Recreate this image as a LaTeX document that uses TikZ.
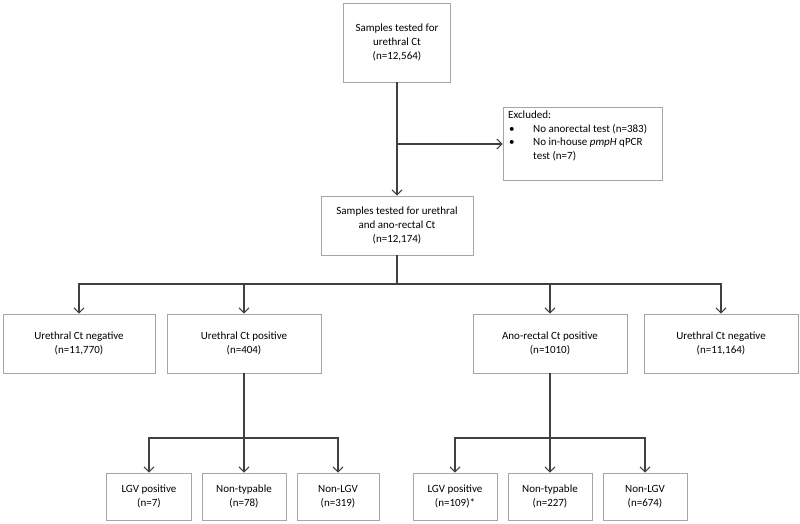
\documentclass[tikz,border=0pt]{standalone}
\usepackage{fontspec}
\setmainfont{Carlito}
\usetikzlibrary{arrows.meta}
\definecolor{boxgray}{HTML}{A6A6A6}
\definecolor{linegray}{HTML}{404040}
\begin{document}
\begin{tikzpicture}[x=1pt,y=-1pt,
  font=\fontsize{11}{14.3}\selectfont,
  box/.style={draw=boxgray, line width=0.8pt, align=center, inner sep=0pt, fill=white},
  conn/.style={draw=linegray, line width=1.3pt},
  arr/.style={conn, -{Straight Barb[length=5pt,width=10pt,line width=1.1pt]}}
]
\useasboundingbox (0,0) rectangle (800,523);
% top
\node[box, minimum width=107pt, minimum height=79pt] (top) at (397,42.5) {Samples tested for\\urethral Ct\\(n=12,564)};
\node[box, minimum width=159pt, minimum height=73pt] (ex) at (582.5,143.5) {};
\node[anchor=north west, align=left, inner sep=0pt, font=\fontsize{11}{13.8}\selectfont] (extext) at (508,110.5)
  {Excluded:\\
   \makebox[25pt][l]{\hspace{1pt}\textbullet}No anorectal test (n=383)\\
   \makebox[25pt][l]{\hspace{1pt}\textbullet}No in-house \textit{pmpH} qPCR\\
   \makebox[25pt][l]{}test (n=7)};
\node[box, minimum width=152pt, minimum height=59pt] (mid) at (397,225.5) {Samples tested for urethral\\and ano-rectal Ct\\(n=12,174)};
% row 2
\node[box, minimum width=152pt, minimum height=59pt] (uneg1) at (79,343.5) {Urethral Ct negative\\(n=11,770)};
\node[box, minimum width=154pt, minimum height=59pt] (upos) at (244,343.5) {Urethral Ct positive\\(n=404)};
\node[box, minimum width=154pt, minimum height=59pt] (apos) at (550,343.5) {Ano-rectal Ct positive\\(n=1010)};
\node[box, minimum width=154pt, minimum height=59pt] (uneg2) at (721,343.5) {Urethral Ct negative\\(n=11,164)};
% row 3
\node[box, minimum width=85pt, minimum height=47pt] (l1) at (149,496.5) {LGV positive\\(n=7)};
\node[box, minimum width=84pt, minimum height=47pt] (l2) at (244,496.5) {Non-typable\\(n=78)};
\node[box, minimum width=82pt, minimum height=47pt] (l3) at (338,496.5) {Non-LGV\\(n=319)};
\node[box, minimum width=84pt, minimum height=47pt] (r1) at (455,496.5) {LGV positive\\(n=109)*};
\node[box, minimum width=84pt, minimum height=47pt] (r2) at (550,496.5) {Non-typable\\(n=227)};
\node[box, minimum width=84pt, minimum height=47pt] (r3) at (645,496.5) {Non-LGV\\(n=674)};
% connectors
\coordinate (j1) at (397,144);
\coordinate (b1) at (397,284);
\coordinate (b2) at (244,438);
\coordinate (b3) at (550,438);
\draw[arr] (top.south) -- (mid.north);
\draw[arr] (j1) -- (ex.west |- j1);
\draw[conn] (mid.south) -- (b1);
\draw[arr] (b1) -| (uneg1.north);
\draw[arr] (b1) -| (upos.north);
\draw[arr] (b1) -| (apos.north);
\draw[arr] (b1) -| (uneg2.north);
\draw[conn] (upos.south) -- (b2);
\draw[arr] (b2) -| (l1.north);
\draw[arr] (b2) -- (l2.north);
\draw[arr] (b2) -| (l3.north);
\draw[conn] (apos.south) -- (b3);
\draw[arr] (b3) -| (r1.north);
\draw[arr] (b3) -- (r2.north);
\draw[arr] (b3) -| (r3.north);
\end{tikzpicture}
\end{document}
